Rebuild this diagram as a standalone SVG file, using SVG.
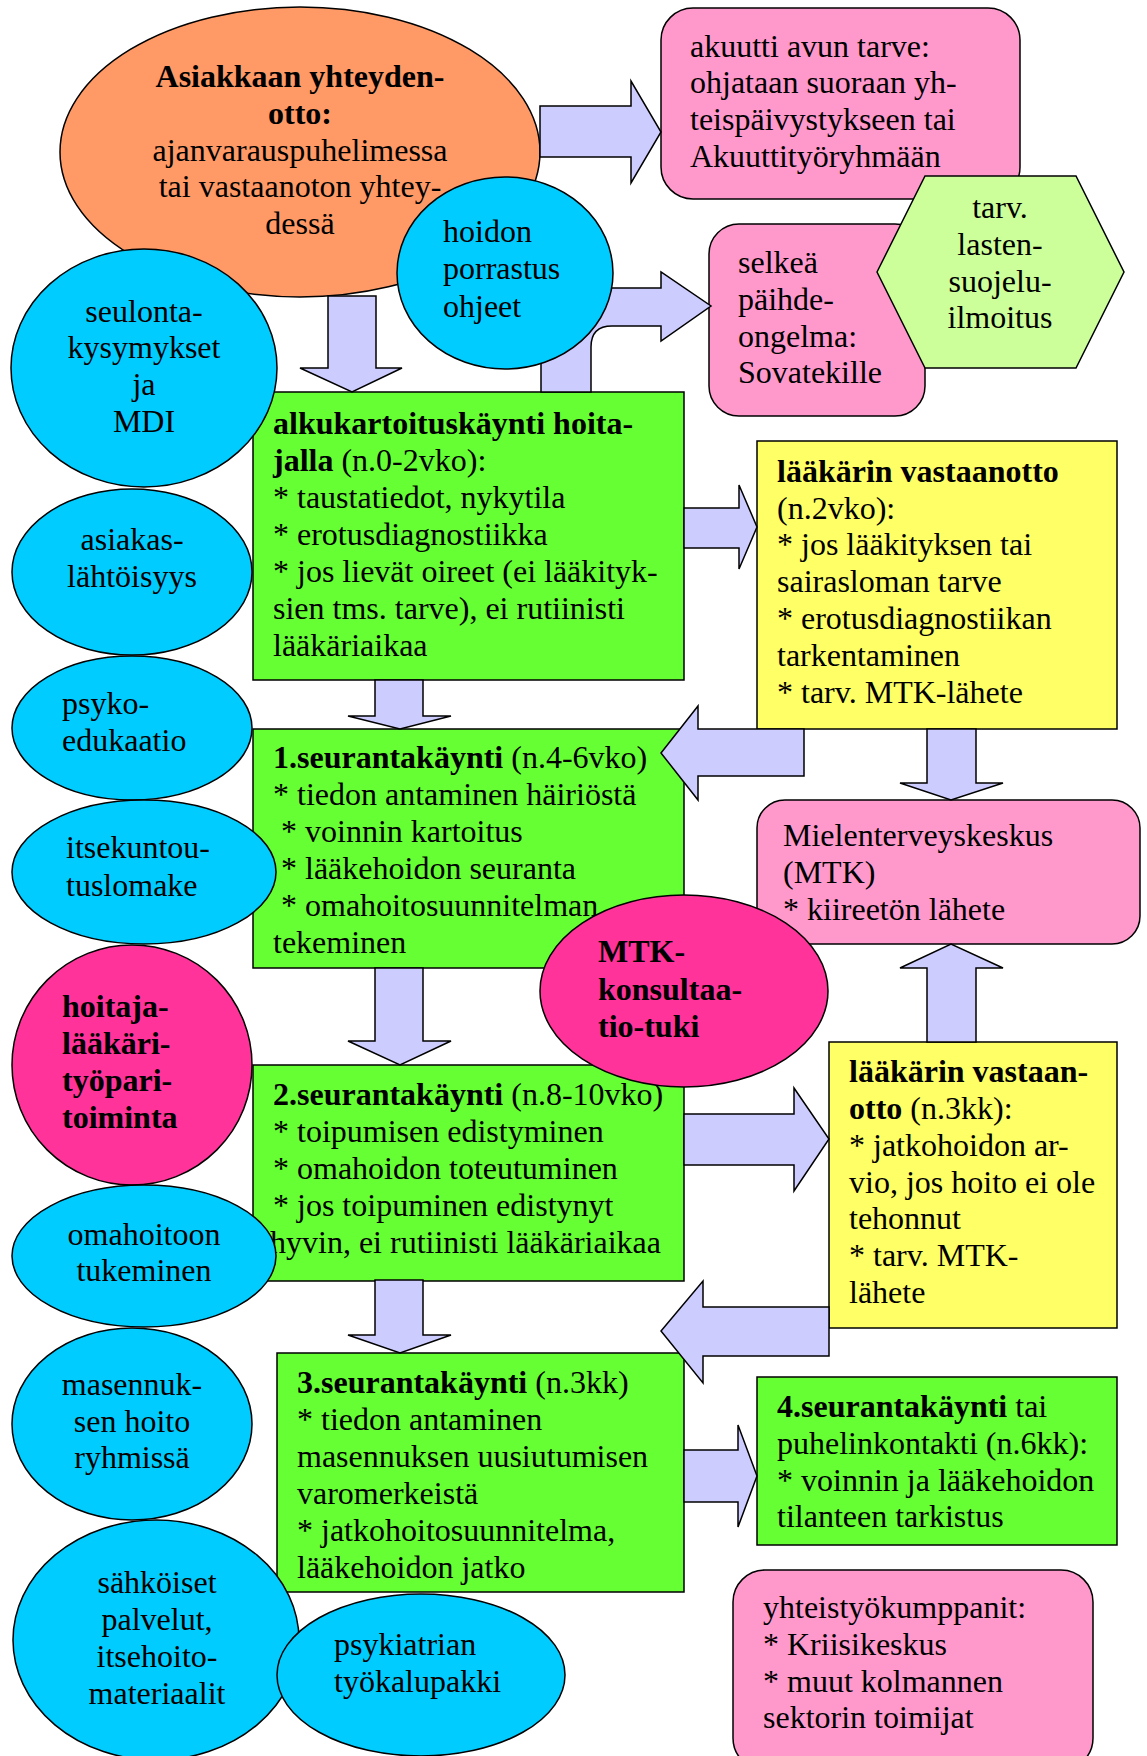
<svg xmlns="http://www.w3.org/2000/svg" width="1147" height="1756" viewBox="0 0 1147 1756">
<style>
text { font-family: "Liberation Serif", "Times New Roman", serif; font-size: 32px; fill: #000; }
.b { font-weight: bold; }
.c { text-anchor: middle; }
.s { stroke: #000; stroke-width: 1.5; }
.or { fill: #FF9966; }
.pk { fill: #FF99CC; }
.hx { fill: #CCFF99; }
.cy { fill: #00CCFF; }
.gr { fill: #66FF33; }
.ye { fill: #FFFF66; }
.mg { fill: #FF3399; }
.arr { fill: #CCCCFF; stroke: #000; stroke-width: 1.5; }
</style>
<rect width="1147" height="1756" fill="#fff"/>

<g id="contact">
<ellipse class="or s" cx="300" cy="152" rx="240" ry="145"/>
<text class="c b" x="300" y="87">Asiakkaan yhteyden-</text>
<text class="c b" x="300" y="124">otto:</text>
<text class="c" x="300" y="161">ajanvarauspuhelimessa</text>
<text class="c" x="300" y="197">tai vastaanoton yhtey-</text>
<text class="c" x="300" y="234">dessä</text>
</g>

<g id="akuutti">
<rect class="pk s" x="661" y="8" width="359" height="191" rx="32"/>
<text x="690" y="57">akuutti avun tarve:</text>
<text x="690" y="93">ohjataan suoraan yh-</text>
<text x="690" y="130">teispäivystykseen tai</text>
<text x="690" y="167">Akuuttityöryhmään</text>
</g>

<g id="selkea">
<rect class="pk s" x="709" y="224" width="216" height="192" rx="30"/>
<text x="738" y="273">selkeä</text>
<text x="738" y="310">päihde-</text>
<text x="738" y="347">ongelma:</text>
<text x="738" y="383">Sovatekille</text>
</g>

<g id="lastensuojelu">
<polygon class="hx s" points="877,272 925,176 1076,176 1124,272 1076,368 925,368"/>
<text class="c" x="1000" y="218">tarv.</text>
<text class="c" x="1000" y="255">lasten-</text>
<text class="c" x="1000" y="292">suojelu-</text>
<text class="c" x="1000" y="328">ilmoitus</text>
</g>

<g id="alkukartoitus">
<rect class="gr s" x="253" y="392" width="431" height="288"/>
<text class="b" x="273" y="434">alkukartoituskäynti hoita-</text>
<text x="273" y="471"><tspan class="b">jalla</tspan> (n.0-2vko):</text>
<text x="273" y="508">* taustatiedot, nykytila</text>
<text x="273" y="545">* erotusdiagnostiikka</text>
<text x="273" y="582">* jos lievät oireet (ei lääkityk-</text>
<text x="273" y="619">sien tms. tarve), ei rutiinisti</text>
<text x="273" y="656">lääkäriaikaa</text>
</g>

<g id="laakari1">
<rect class="ye s" x="757" y="441" width="360" height="288"/>
<text class="b" x="777" y="482">lääkärin vastaanotto</text>
<text x="777" y="519">(n.2vko):</text>
<text x="777" y="555">* jos lääkityksen tai</text>
<text x="777" y="592">sairasloman tarve</text>
<text x="777" y="629">* erotusdiagnostiikan</text>
<text x="777" y="666">tarkentaminen</text>
<text x="777" y="703">* tarv. MTK-lähete</text>
</g>

<g id="seuranta1">
<rect class="gr s" x="253" y="729" width="431" height="239"/>
<text x="273" y="768"><tspan class="b">1.seurantakäynti</tspan> (n.4-6vko)</text>
<text x="273" y="805">* tiedon antaminen häiriöstä</text>
<text x="281" y="842">* voinnin kartoitus</text>
<text x="281" y="879">* lääkehoidon seuranta</text>
<text x="281" y="916">* omahoitosuunnitelman</text>
<text x="273" y="953">tekeminen</text>
</g>

<g id="mtk">
<rect class="pk s" x="757" y="800" width="383" height="144" rx="28"/>
<text x="783" y="846">Mielenterveyskeskus</text>
<text x="783" y="883">(MTK)</text>
<text x="783" y="920">* kiireetön lähete</text>
</g>

<g id="seuranta2">
<rect class="gr s" x="253" y="1065" width="431" height="216"/>
<text x="273" y="1105"><tspan class="b">2.seurantakäynti</tspan> (n.8-10vko)</text>
<text x="273" y="1142">* toipumisen edistyminen</text>
<text x="273" y="1179">* omahoidon toteutuminen</text>
<text x="273" y="1216">* jos toipuminen edistynyt</text>
<text x="270" y="1253">hyvin, ei rutiinisti lääkäriaikaa</text>
</g>

<g id="laakari2">
<rect class="ye s" x="829" y="1042" width="288" height="286"/>
<text class="b" x="849" y="1082">lääkärin vastaan-</text>
<text x="849" y="1119"><tspan class="b">otto</tspan> (n.3kk):</text>
<text x="849" y="1156">* jatkohoidon ar-</text>
<text x="849" y="1193">vio, jos hoito ei ole</text>
<text x="849" y="1229">tehonnut</text>
<text x="849" y="1266">* tarv. MTK-</text>
<text x="849" y="1303">lähete</text>
</g>

<g id="seuranta3">
<rect class="gr s" x="277" y="1353" width="407" height="239"/>
<text x="297" y="1393"><tspan class="b">3.seurantakäynti</tspan> (n.3kk)</text>
<text x="297" y="1430">* tiedon antaminen</text>
<text x="297" y="1467">masennuksen uusiutumisen</text>
<text x="297" y="1504">varomerkeistä</text>
<text x="297" y="1541">* jatkohoitosuunnitelma,</text>
<text x="297" y="1578">lääkehoidon jatko</text>
</g>

<g id="seuranta4">
<rect class="gr s" x="757" y="1377" width="360" height="168"/>
<text x="777" y="1417"><tspan class="b">4.seurantakäynti</tspan> tai</text>
<text x="777" y="1454">puhelinkontakti (n.6kk):</text>
<text x="777" y="1491">* voinnin ja lääkehoidon</text>
<text x="777" y="1527">tilanteen tarkistus</text>
</g>

<g id="yhteistyo">
<rect class="pk s" x="733" y="1570" width="360" height="200" rx="32"/>
<text x="763" y="1618">yhteistyökumppanit:</text>
<text x="763" y="1655">* Kriisikeskus</text>
<text x="763" y="1692">* muut kolmannen</text>
<text x="763" y="1728">sektorin toimijat</text>
</g>

<g id="connectors">
<polygon class="arr" points="540,106 631,106 631,81 661,132 631,183 631,157 540,157"/>
<polygon class="arr" points="328,296 376,296 376,368 402,368 352,392 300,368 328,368"/>
<path class="arr" d="M541,392 L541,328 Q541,288 581,288 L661,288 L661,272 L711,306 L661,341 L661,326 L612,326 Q591,326 591,347 L591,392 Z"/>
<polygon class="arr" points="684,508 739,508 739,485 757,527 739,569 739,548 684,548"/>
<polygon class="arr" points="804,729 804,776 698,776 698,800 661,753 698,706 698,729"/>
<polygon class="arr" points="927,729 976,729 976,783 1003,783 951,800 900,783 927,783"/>
<polygon class="arr" points="375,680 423,680 423,716 451,716 400,729 348,716 375,716"/>
<polygon class="arr" points="375,968 423,968 423,1041 451,1041 400,1065 348,1041 375,1041"/>
<polygon class="arr" points="684,1114 794,1114 794,1088 829,1139 794,1191 794,1165 684,1165"/>
<polygon class="arr" points="927,1042 927,968 900,968 951,944 1003,968 976,968 976,1042"/>
<polygon class="arr" points="829,1307 829,1356 703,1356 703,1383 661,1331 703,1281 703,1307"/>
<polygon class="arr" points="375,1280 423,1280 423,1335 451,1335 400,1353 348,1335 375,1335"/>
<polygon class="arr" points="684,1450 738,1450 738,1425 757,1476 738,1527 738,1502 684,1502"/>
</g>

<g id="porrastus">
<ellipse class="cy s" cx="505" cy="273" rx="108" ry="96"/>
<text x="443" y="242">hoidon</text>
<text x="443" y="279">porrastus</text>
<text x="443" y="317">ohjeet</text>
</g>

<g id="konsultaatio">
<ellipse class="mg s" cx="684" cy="991" rx="144" ry="96"/>
<text class="b" x="598" y="962">MTK-</text>
<text class="b" x="598" y="1000">konsultaa-</text>
<text class="b" x="598" y="1037">tio-tuki</text>
</g>

<g id="seulonta">
<ellipse class="cy s" cx="144" cy="368" rx="133" ry="119"/>
<text class="c" x="144" y="322">seulonta-</text>
<text class="c" x="144" y="358">kysymykset</text>
<text class="c" x="144" y="395">ja</text>
<text class="c" x="144" y="432">MDI</text>
</g>

<g id="asiakaslahtoisyys">
<ellipse class="cy s" cx="132" cy="572" rx="120" ry="83"/>
<text class="c" x="132" y="550">asiakas-</text>
<text class="c" x="132" y="587">lähtöisyys</text>
</g>

<g id="psykoedukaatio">
<ellipse class="cy s" cx="132" cy="728" rx="120" ry="72"/>
<text x="62" y="714">psyko-</text>
<text x="62" y="751">edukaatio</text>
</g>

<g id="itsekuntoutus">
<ellipse class="cy s" cx="144" cy="872" rx="132" ry="72"/>
<text x="66" y="858">itsekuntou-</text>
<text x="66" y="896">tuslomake</text>
</g>

<g id="tyopari">
<ellipse class="mg s" cx="132" cy="1065" rx="120" ry="120"/>
<text class="b" x="62" y="1017">hoitaja-</text>
<text class="b" x="62" y="1054">lääkäri-</text>
<text class="b" x="62" y="1091">työpari-</text>
<text class="b" x="62" y="1128">toiminta</text>
</g>

<g id="omahoito">
<ellipse class="cy s" cx="144" cy="1256" rx="132" ry="71"/>
<text class="c" x="144" y="1245">omahoitoon</text>
<text class="c" x="144" y="1281">tukeminen</text>
</g>

<g id="ryhmat">
<ellipse class="cy s" cx="132" cy="1424" rx="120" ry="96"/>
<text class="c" x="132" y="1395">masennuk-</text>
<text class="c" x="132" y="1432">sen hoito</text>
<text class="c" x="132" y="1468">ryhmissä</text>
</g>

<g id="sahkoiset">
<ellipse class="cy s" cx="156" cy="1640" rx="143" ry="120"/>
<text class="c" x="157" y="1593">sähköiset</text>
<text class="c" x="157" y="1630">palvelut,</text>
<text class="c" x="157" y="1667">itsehoito-</text>
<text class="c" x="157" y="1704">materiaalit</text>
</g>

<g id="tyokalupakki">
<ellipse class="cy s" cx="421" cy="1675" rx="144" ry="81"/>
<text x="334" y="1655">psykiatrian</text>
<text x="334" y="1692">työkalupakki</text>
</g>
</svg>
